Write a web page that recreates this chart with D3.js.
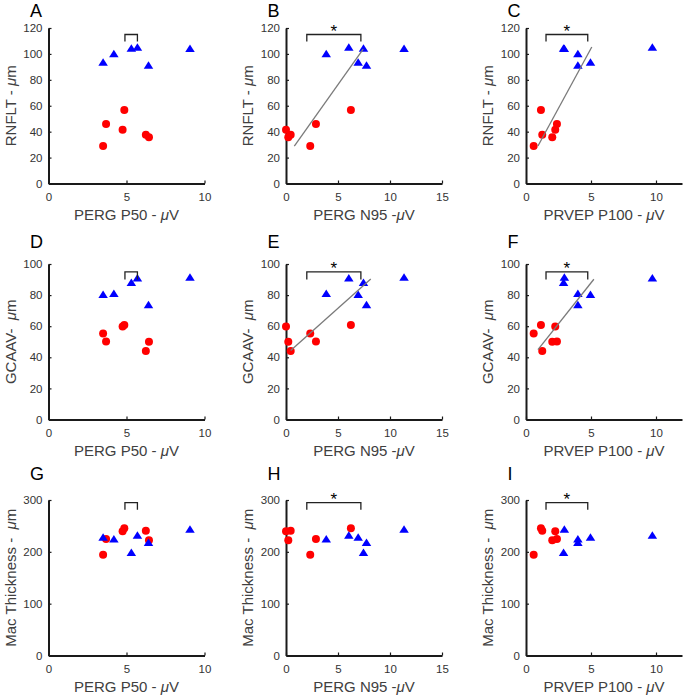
<!DOCTYPE html>
<html>
<head>
<meta charset="utf-8">
<script src="https://cdn.jsdelivr.net/npm/d3@7"></script>
<style>
  html, body { margin: 0; padding: 0; background: #fff; }
  svg { display: block; }
  text { white-space: pre; }
</style>
</head>
<body>
<svg id="chart" width="685" height="699"></svg>
<script>
// ---------- DATA ----------
// Circles (red) and triangles (blue), 6 subjects each
const circP50  = [3.5, 3.69, 4.86, 4.75, 6.24, 6.44];
const triP50   = [3.5, 4.19, 5.31, 5.70, 6.41, 9.07];
const circN95  = [2.33, 2.88, 6.24, 0.0, 0.45, 0.22];
const triN95   = [6.94, 3.87, 7.45, 6.04, 7.74, 11.35];
const circP100 = [0.59, 2.38, 1.15, 2.25, 1.25, 2.02];
const triP100  = [4.96, 3.99, 2.89, 9.72, 3.99, 2.95];

const circRNFLT = [28.9, 45.9, 56.8, 41.5, 37.7, 35.6];
const triRNFLT  = [93.7, 100.4, 104.5, 105.3, 91.4, 104.3];
const circGCA   = [55.3, 50.2, 60.7, 59.8, 44.0, 50.0];
const triGCA    = [80.6, 81.2, 88.2, 91.2, 73.9, 91.7];
const circMac   = [194.6, 224.8, 245.3, 239.6, 240.8, 222.2];
const triMac    = [228.6, 225.4, 199.0, 232.5, 218.4, 244.0];

const xLabels = ["PERG P50 - μV", "PERG N95 -μV", "PRVEP P100 - μV"];
const yLabels = ["RNFLT - μm", "GCAAV-  μm", "Mac Thickness -  μm"];
const panelLetters = [["A","B","C"],["D","E","F"],["G","H","I"]];
const xMax = [10, 15, 12];
const xTicks = [[0,5,10],[0,5,10,15],[0,5,10]];
const yMax = [120, 100, 300];
const yTicks = [[0,20,40,60,80,100,120],[0,20,40,60,80,100],[0,100,200,300]];

// regression lines [[x1,y1],[x2,y2]] per panel (null = none)
const fitLines = [
  [null, [[0.8,28.9],[7.42,103.7]], [[0.92,28.9],[5.06,105.3]]],
  [null, [[0.45,44.4],[8.15,90.4]], [[0.92,44.9],[5.22,90.2]]],
  [null, null, null]
];
// significance brackets: x extent per column, [top, legEnd] per row
const bracketX = [[4.9,5.7],[2.0,7.2],[1.54,4.75]];
const bracketY = [[115,109.5],[95,90],[295,281]];
const bracketStar = ["", "*", "*"];

// ---------- LAYOUT ----------
const colLeft = [48.5, 286, 526];
const plotW = 156;
const rowTop = [28, 264, 500];
const plotH = 155.5;
const letterBaseline = [17.3, 248, 479.5];

const xData = [[circP50, triP50],[circN95, triN95],[circP100, triP100]];
const yData = [[circRNFLT, triRNFLT],[circGCA, triGCA],[circMac, triMac]];

const svg = d3.select("#chart");
const textColor = "#404040";

function addMuText(sel, str) {
  const parts = str.split("μ");
  parts.forEach((p, i) => {
    if (i > 0) sel.append("tspan").attr("font-style", "italic").text("μ");
    if (p.length) sel.append("tspan").text(p);
  });
}

for (let r = 0; r < 3; r++) {
  for (let c = 0; c < 3; c++) {
    const x0 = colLeft[c], y0 = rowTop[r];
    const g = svg.append("g").attr("transform", `translate(${x0},${y0})`);
    const xs = d3.scaleLinear().domain([0, xMax[c]]).range([0, plotW]);
    const ys = d3.scaleLinear().domain([0, yMax[r]]).range([plotH, 0]);

    // axes
    const xAxis = d3.axisBottom(xs).tickValues(xTicks[c]).tickSizeInner(-3).tickSizeOuter(0).tickPadding(9);
    const yAxis = d3.axisLeft(ys).tickValues(yTicks[r]).tickSizeInner(-3).tickSizeOuter(0).tickPadding(6);
    const gx = g.append("g").attr("transform", `translate(0,${plotH})`).call(xAxis);
    const gy = g.append("g").call(yAxis);
    [gx, gy].forEach(a => {
      a.select(".domain").attr("stroke", "#1a1a1a").attr("stroke-width", 2);
      a.selectAll(".tick line").attr("stroke", "#1a1a1a").attr("stroke-width", 1.2);
      a.selectAll(".tick text").attr("fill", "#333").attr("font-size", 11.5)
        .attr("font-family", "'Liberation Sans', Arial, sans-serif");
    });

    // points: circles
    const cx = xData[c][0], cy = yData[r][0];
    g.append("g").selectAll("circle").data(cx.map((v, i) => [v, cy[i]])).join("circle")
      .attr("cx", d => xs(d[0])).attr("cy", d => ys(d[1])).attr("r", 4)
      .attr("fill", "#ff0000");
    // triangles
    const tx = xData[c][1], ty = yData[r][1];
    const tw = 9.5, th = 7.5;
    g.append("g").selectAll("path").data(tx.map((v, i) => [v, ty[i]])).join("path")
      .attr("d", d => {
        const px = xs(d[0]), py = ys(d[1]);
        return `M${px},${py - th/2}L${px + tw/2},${py + th/2}L${px - tw/2},${py + th/2}Z`;
      })
      .attr("fill", "#0000ff");

    // regression line
    const fl = fitLines[r][c];
    if (fl) {
      g.append("line")
        .attr("x1", xs(fl[0][0])).attr("y1", ys(fl[0][1]))
        .attr("x2", xs(fl[1][0])).attr("y2", ys(fl[1][1]))
        .attr("stroke", "#7a7a7a").attr("stroke-width", 1.3);
    }

    // bracket
    const bx = bracketX[c], by = bracketY[r];
    g.append("path")
      .attr("d", `M${xs(bx[0])},${ys(by[1])}V${ys(by[0])}H${xs(bx[1])}V${ys(by[1])}`)
      .attr("fill", "none").attr("stroke", "#222").attr("stroke-width", 1.3);
    if (bracketStar[c]) {
      g.append("text").attr("x", (xs(bx[0]) + xs(bx[1])) / 2).attr("y", ys(by[0]) + 2.5)
        .attr("text-anchor", "middle").attr("font-size", 17).attr("fill", "#000")
        .attr("font-family", "'Liberation Sans', Arial, sans-serif")
        .text(bracketStar[c]);
    }

    // x label
    const xl = g.append("text").attr("x", plotW / 2).attr("y", plotH + 36)
      .attr("text-anchor", "middle").attr("font-size", 15).attr("fill", textColor)
      .attr("font-family", "'Liberation Sans', Arial, sans-serif");
    addMuText(xl, xLabels[c]);

    // y label
    const yl = g.append("text")
      .attr("transform", `translate(-33,${plotH / 2}) rotate(-90)`)
      .attr("text-anchor", "middle").attr("font-size", 15).attr("fill", textColor)
      .attr("font-family", "'Liberation Sans', Arial, sans-serif");
    addMuText(yl, yLabels[r]);

    // panel letter
    svg.append("text").attr("x", x0 - 18.5).attr("y", letterBaseline[r])
      .attr("font-size", 18).attr("fill", "#000")
      .attr("font-family", "'Liberation Sans', Arial, sans-serif")
      .text(panelLetters[r][c]);
  }
}
</script>
</body>
</html>
